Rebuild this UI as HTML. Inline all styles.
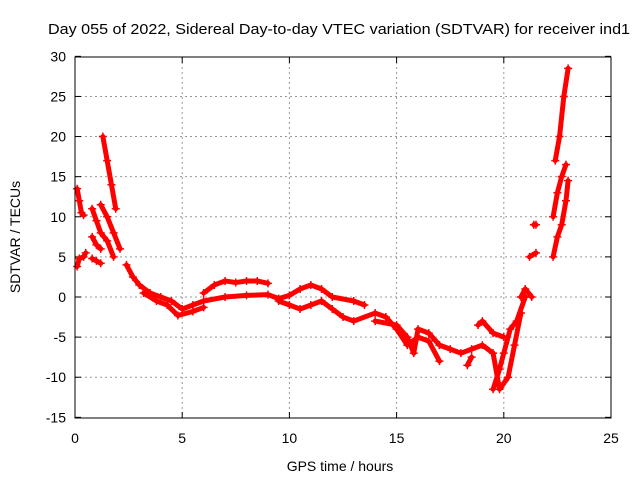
<!DOCTYPE html>
<html><head><meta charset="utf-8"><style>
body{margin:0;background:#fff;}
svg{display:block;font-family:"Liberation Sans",sans-serif;}
</style></head><body>
<svg id="c" width="640" height="480" xmlns="http://www.w3.org/2000/svg">
<rect width="640" height="480" fill="#fff"/>
<text x="339" y="34" font-size="15" text-anchor="middle" textLength="582" lengthAdjust="spacingAndGlyphs">Day 055 of 2022, Sidereal Day-to-day VTEC variation (SDTVAR) for receiver ind1</text>
<text x="340" y="471" font-size="14" text-anchor="middle">GPS time / hours</text>
<text transform="translate(20,237) rotate(-90)" font-size="14" text-anchor="middle">SDTVAR / TECUs</text>
<g id="grid"></g><g id="marks"></g>
<rect x="75" y="57" width="536" height="361" fill="none" stroke="#000"/>
</svg>
<script>
const xTicks=[0,5,10,15,20,25];
const yTicks=[-15,-10,-5,0,5,10,15,20,25,30];
const tracks=[
[[0.1,13.5],[0.2,12],[0.3,10.5],[0.4,10.2]],
[[0.1,3.8],[0.2,4.8],[0.4,5],[0.5,5.5]],
[[0.8,11],[1.0,9.5],[1.2,8],[1.5,7],[1.8,5]],
[[0.8,7.5],[1.0,6.5],[1.2,6]],
[[0.8,4.8],[1.0,4.5],[1.2,4.2]],
[[1.3,20],[1.5,17],[1.7,14],[1.9,11]],
[[1.2,11.5],[1.5,10],[1.8,8],[2.1,6]],
[[2.4,4],[2.7,2.5],[3.0,1.5],[3.5,0.5],[4.0,0],[4.5,-0.5],[5,-1.5],[5.5,-1],[6,-0.5],[7,0],[8,0.2],[9,0.3],[9.5,-0.2],[10,0.2],[10.5,1],[11,1.5],[11.5,1],[12,0],[13,-0.5],[13.5,-1]],
[[3.2,0.5],[3.8,-0.5],[4.3,-1],[4.8,-2.3],[5.5,-1.8],[6,-1.3]],
[[6,0.5],[6.5,1.5],[7,2],[7.5,1.8],[8,2],[8.5,2],[9,1.7]],
[[9.5,-0.5],[10,-1],[10.5,-1.5],[11,-1],[11.5,-0.5],[12,-1.5],[12.5,-2.5],[13,-3],[14,-2],[14.5,-2.5],[15,-4],[15.5,-6],[16,-5],[16.5,-5.5],[17,-8]],
[[14,-3],[15,-3.5],[15.5,-5],[15.8,-7],[16,-4],[16.5,-4.5],[17,-6]],
[[17,-6],[17.5,-6.5],[18,-7],[18.5,-6.5],[19,-6],[19.5,-7],[19.8,-11.5],[20.2,-10],[20.5,-6],[20.8,-2]],
[[18.3,-8.5],[18.5,-7.5]],
[[18.8,-3.5],[19,-3],[19.5,-4.5],[20,-5]],
[[19.5,-11.5],[19.8,-9],[20,-7],[20.3,-4],[20.6,-3],[21,0]],
[[20.8,0],[21,1],[21.3,0]],
[[21.4,9],[21.5,9]],
[[21.2,5],[21.5,5.5]],
[[22.3,5],[22.5,7.5],[22.7,9],[22.9,12],[23,14.5]],
[[22.3,10],[22.5,13],[22.7,15],[22.9,16.5]],
[[22.4,17],[22.6,20],[22.8,25],[23,28.5]]
];
const NS='http://www.w3.org/2000/svg';
const X=v=>75+v*536/25, Y=v=>297-v*361/45;
const grid=document.getElementById('grid'), marks=document.getElementById('marks');
function mk(tag,attrs,parent){const e=document.createElementNS(NS,tag);for(const k in attrs)e.setAttribute(k,attrs[k]);parent.appendChild(e);return e;}
xTicks.forEach(t=>{
  if(t>0&&t<25){const l=mk('line',{x1:X(t),x2:X(t),y1:57,y2:418,stroke:'#999','stroke-dasharray':'2,3'},grid);
  
  }
  mk('line',{x1:X(t),x2:X(t),y1:418,y2:412,stroke:'#000'},grid);
  mk('line',{x1:X(t),x2:X(t),y1:57,y2:63,stroke:'#000'},grid);
  const tx=mk('text',{x:X(t),y:443,'font-size':14,'text-anchor':'middle'},grid);tx.textContent=t;
  
  
});
yTicks.forEach(t=>{
  if(t>-15&&t<30){const l=mk('line',{x1:75,x2:611,y1:Y(t),y2:Y(t),stroke:'#999','stroke-dasharray':'2,3'},grid);
  
  }
  mk('line',{x1:75,x2:81,y1:Y(t),y2:Y(t),stroke:'#000'},grid);
  mk('line',{x1:611,x2:605,y1:Y(t),y2:Y(t),stroke:'#000'},grid);
  const tx=mk('text',{x:66,y:Y(t)+5,'font-size':14,'text-anchor':'end'},grid);tx.textContent=t;
  
  
});
tracks.forEach(tr=>{
  const pl=mk('polyline',{points:tr.map(p=>X(p[0])+','+Y(p[1])).join(' '),fill:'none',stroke:'#f00','stroke-width':5,'stroke-linejoin':'round','stroke-linecap':'round'},marks);
  
  
  tr.forEach(p=>{
    const x=X(p[0]),y=Y(p[1]);
    const m=mk('path',{d:`M${x-4},${y}h8M${x},${y-4}v8`,stroke:'#f00','stroke-width':1.5},marks);
    
    
  });
});
</script>
</body></html>
